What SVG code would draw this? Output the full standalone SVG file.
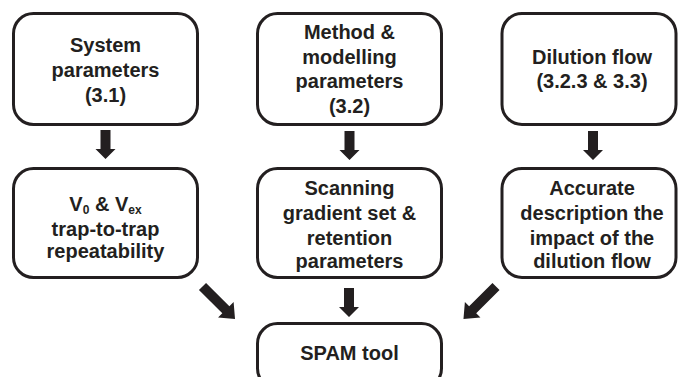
<svg xmlns="http://www.w3.org/2000/svg" width="678" height="377" viewBox="0 0 678 377">
<style>
.box{fill:#fff;stroke:#231f20;stroke-width:3}
.t{font-family:"Liberation Sans",Arial,sans-serif;font-weight:bold;font-size:20px;fill:#231f20;text-anchor:middle}
.sub{font-size:12px}
.arr{fill:#231f20}
</style>
<rect width="678" height="377" fill="#fff"/>
<g id="n1"><rect class="box" x="13.5" y="13.5" width="184" height="111" rx="20"/>
<text class="t" x="105.5"><tspan x="105.5" y="52">System</tspan><tspan x="105.5" y="77">parameters</tspan><tspan x="105.5" y="102">(3.1)</tspan></text></g>
<g id="n2"><rect class="box" x="257.5" y="13.5" width="184" height="111" rx="20"/>
<text class="t"><tspan x="349.5" y="39">Method &amp;</tspan><tspan x="349.5" y="64">modelling</tspan><tspan x="349.5" y="88">parameters</tspan><tspan x="349.5" y="113">(3.2)</tspan></text></g>
<g id="n3"><rect class="box" x="502" y="13.5" width="174" height="111" rx="20"/>
<text class="t"><tspan x="592" y="64">Dilution flow</tspan><tspan x="592" y="88">(3.2.3 &amp; 3.3)</tspan></text></g>
<g id="n4"><rect class="box" x="13.5" y="168.5" width="184" height="109" rx="20"/>
<text class="t" x="105.5" y="211">V<tspan class="sub" dy="3">0</tspan><tspan dy="-3"> &amp; V</tspan><tspan class="sub" dy="3">ex</tspan></text>
<text class="t"><tspan x="105.5" y="236">trap-to-trap</tspan><tspan x="105.5" y="258">repeatability</tspan></text></g>
<g id="n5"><rect class="box" x="257.5" y="168.5" width="184" height="109" rx="20"/>
<text class="t"><tspan x="349.5" y="195">Scanning</tspan><tspan x="349.5" y="220">gradient set &amp;</tspan><tspan x="349.5" y="245">retention</tspan><tspan x="349.5" y="268">parameters</tspan></text></g>
<g id="n6"><rect class="box" x="502" y="168.5" width="174" height="109" rx="20"/>
<text class="t"><tspan x="592" y="195">Accurate</tspan><tspan x="592" y="220">description the</tspan><tspan x="592" y="245">impact of the</tspan><tspan x="592" y="268">dilution flow</tspan></text></g>
<g id="n7"><rect class="box" x="257.5" y="323.5" width="184" height="65" rx="20"/>
<text class="t" x="349.5" y="360">SPAM tool</text></g>
<g id="connectors">
<defs><polygon id="da" points="-5,0 5,0 5,19 10,19 0,29 -10,19 -5,19"/>
<polygon id="ha" points="0,-5 33,-5 33,-11 46,0 33,11 33,5 0,5"/></defs>
<use href="#da" class="arr" x="105.5" y="130"/>
<use href="#da" class="arr" x="349.5" y="131"/>
<use href="#da" class="arr" x="593" y="131"/>
<use href="#da" class="arr" x="349" y="288"/>
<use href="#ha" class="arr" transform="translate(202.5,286.5) rotate(45)"/>
<use href="#ha" class="arr" transform="translate(496,286.5) rotate(135)"/>
</g>
</svg>
